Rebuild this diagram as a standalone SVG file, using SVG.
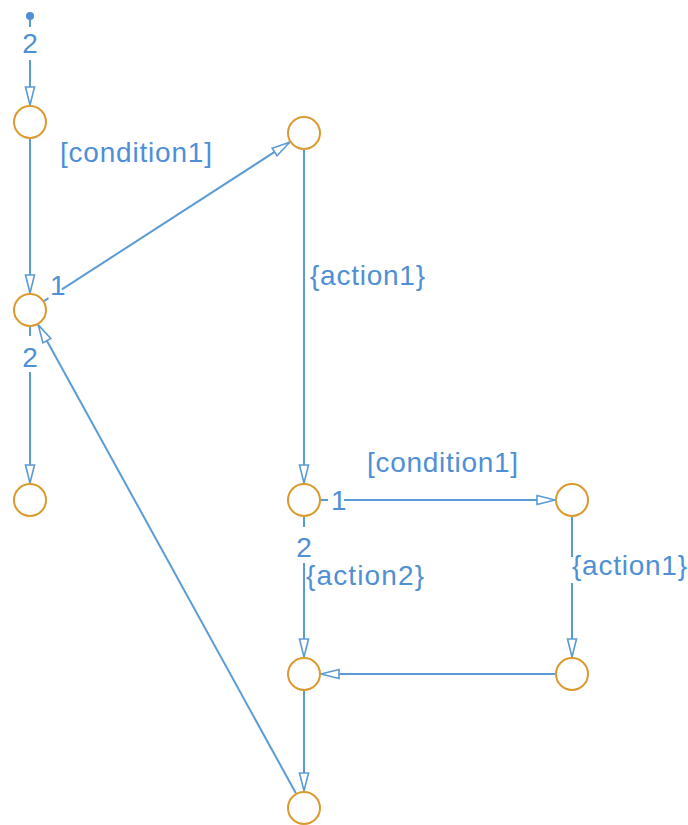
<svg xmlns="http://www.w3.org/2000/svg" width="688" height="825" viewBox="0 0 688 825">
<style>
.node{fill:#fff;stroke:#DA9A2E;stroke-width:2}
.edge{fill:none;stroke:#5B9BD5;stroke-width:2}
.arr{marker-end:url(#arrow)}
text{font-family:"Liberation Sans",Arial,sans-serif;font-size:28px;fill:#4F8FD6}
.mid{text-anchor:middle}
</style>
<defs>
<marker id="arrow" markerUnits="userSpaceOnUse" markerWidth="22" markerHeight="14" viewBox="-1 -1 22 14" refX="19" refY="5.5" orient="auto">
<path d="M1,1 L19,5.5 L1,10 Z" fill="#fff" stroke="#5B9BD5" stroke-width="1.6"/>
</marker>
</defs>
<rect width="688" height="825" fill="#fff"/>
<g id="connectors">
<circle cx="30" cy="16" r="4" fill="#4F8FD6"/>
<line class="edge" x1="30" y1="20" x2="30" y2="27"/>
<line class="edge arr" x1="30" y1="60" x2="30" y2="105"/>
<line class="edge arr" x1="30" y1="139" x2="30" y2="293"/>
<line class="edge" x1="44.3" y1="300.8" x2="48.5" y2="298.1"/>
<line class="edge arr" x1="61.9" y1="289.4" x2="289.7" y2="142.2"/>
<line class="edge" x1="30" y1="327" x2="30" y2="336"/>
<line class="edge arr" x1="30" y1="372" x2="30" y2="483"/>
<line class="edge arr" x1="295.8" y1="793.1" x2="38.2" y2="324.9"/>
<line class="edge arr" x1="304" y1="150" x2="304" y2="483"/>
<line class="edge" x1="321" y1="500" x2="328" y2="500"/>
<line class="edge arr" x1="344" y1="500" x2="555" y2="500"/>
<line class="edge" x1="304" y1="517" x2="304" y2="527"/>
<line class="edge arr" x1="304" y1="563" x2="304" y2="657"/>
<line class="edge" x1="572" y1="517" x2="572" y2="557"/>
<line class="edge arr" x1="572" y1="583" x2="572" y2="657"/>
<line class="edge arr" x1="555" y1="674" x2="321" y2="674"/>
<line class="edge arr" x1="304" y1="691" x2="304" y2="791"/>
</g>
<g id="labels">
<text class="mid" x="30" y="53">2</text>
<text x="60" y="162" textLength="152" lengthAdjust="spacing">[condition1]</text>
<text x="50" y="295">1</text>
<text class="mid" x="30" y="367">2</text>
<text x="310" y="285" textLength="115" lengthAdjust="spacing">{action1}</text>
<text x="331" y="510">1</text>
<text x="367" y="472" textLength="151" lengthAdjust="spacing">[condition1]</text>
<text class="mid" x="304" y="557">2</text>
<text x="306" y="585" textLength="118" lengthAdjust="spacing">{action2}</text>
<text x="572" y="575" textLength="115" lengthAdjust="spacing">{action1}</text>
</g>
<g id="nodeA"><circle class="node" cx="30" cy="122" r="16"/></g>
<g id="nodeB"><circle class="node" cx="30" cy="310" r="16"/></g>
<g id="nodeC"><circle class="node" cx="30" cy="500" r="16"/></g>
<g id="nodeD"><circle class="node" cx="304" cy="133" r="16"/></g>
<g id="nodeE"><circle class="node" cx="304" cy="500" r="16"/></g>
<g id="nodeF"><circle class="node" cx="572" cy="500" r="16"/></g>
<g id="nodeG"><circle class="node" cx="304" cy="674" r="16"/></g>
<g id="nodeH"><circle class="node" cx="572" cy="674" r="16"/></g>
<g id="nodeI"><circle class="node" cx="304" cy="808" r="16"/></g>
</svg>
